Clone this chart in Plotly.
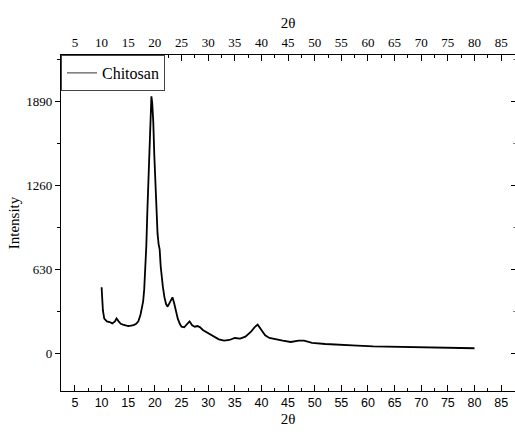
import plotly.graph_objects as go

two_theta = [10.0, 10.1, 10.25, 10.5, 11, 11.5, 12, 12.5, 12.8, 13.2, 13.6, 14, 14.5, 15, 15.5, 16,
             16.5, 16.9, 17.3, 17.6, 17.8, 18.0, 18.2, 18.4, 18.6, 18.8, 19.0, 19.2, 19.35, 19.5,
             19.7, 19.9, 20.1, 20.3, 20.5, 20.7, 20.9, 21.1, 21.3, 21.5, 21.8, 22.1, 22.4, 22.7,
             23.0, 23.3, 23.6, 23.9, 24.3, 24.7, 25.0, 25.5, 26.0, 26.5, 27.0, 27.5, 28.0, 28.5,
             29, 30, 31, 32, 33, 34, 35, 36, 37, 38, 38.7, 39.3, 40, 40.7, 41.5, 42.5, 44, 45.5,
             47, 48, 49.5, 52, 55, 58, 61, 64, 67, 70, 73, 76, 78, 80]
intensity = [496, 420, 320, 260, 240, 235, 225, 240, 262, 240, 222, 215, 210, 205, 208, 212,
             222, 240, 290, 340, 390, 480, 620, 810, 1080, 1330, 1620, 1860, 1930, 1880,
             1740, 1480, 1230, 1050, 900, 820, 780, 650, 560, 500, 420, 370, 350, 370,
             400, 420, 380, 320, 260, 220, 200, 195, 215, 240, 210, 200, 205, 195,
             175, 150, 125, 105, 95, 100, 115, 110, 125, 160, 195, 215, 175, 135, 115, 105, 95, 85,
             95, 95, 78, 70, 62, 58, 52, 50, 46, 44, 41, 38, 38, 38]

x_ticks = [5, 10, 15, 20, 25, 30, 35, 40, 45, 50, 55, 60, 65, 70, 75, 80, 85]
y_ticks = [0, 630, 1260, 1890]
series_name = "Chitosan"

XR = [2.38, 87.6]
YR = [-283, 2240]
SERIF = "Liberation Serif, Times New Roman, serif"
SANS = "Liberation Sans, Arial, sans-serif"

fig = go.Figure()
fig.add_trace(go.Scatter(x=two_theta, y=intensity, mode="lines",
                         line=dict(color="black", width=1.8), showlegend=False,
                         hoverinfo="skip"))
fig.add_trace(go.Scatter(x=[None], y=[None], mode="lines", name=series_name,
                         line=dict(color="#333333", width=1), xaxis="x2", yaxis="y2"))

fig.update_layout(
    width=515, height=435,
    margin=dict(l=61, r=0, t=55, b=44),
    paper_bgcolor="white", plot_bgcolor="white",
    xaxis=dict(range=XR, tickvals=x_ticks, ticks="inside", ticklen=6, tickwidth=1,
               tickcolor="black", showline=True, linecolor="black", linewidth=1.2,
               showgrid=False, zeroline=False, automargin=False, ticklabelstandoff=0,
               minor=dict(dtick=2.5, tick0=2.5, ticks="inside", ticklen=3, tickcolor="black"),
               tickfont=dict(family=SANS, size=12.5, color="black"),
               title=dict(text="2θ", font=dict(family=SERIF, size=15, color="black"), standoff=4)),
    xaxis2=dict(range=XR, overlaying="x", side="top", tickvals=x_ticks, ticks="inside",
                ticklen=6, tickwidth=1, tickcolor="black", showline=True, linecolor="black",
                linewidth=1.2, showgrid=False, zeroline=False, automargin=False,
                ticklabelstandoff=2,
                minor=dict(dtick=2.5, tick0=2.5, ticks="inside", ticklen=3, tickcolor="black"),
                tickfont=dict(family=SERIF, size=13, color="black"),
                title=dict(text="2θ", font=dict(family=SERIF, size=15, color="black"), standoff=2)),
    yaxis=dict(range=YR, tickvals=y_ticks, ticks="outside", ticklen=5, tickwidth=1,
               tickcolor="black", showline=True, linecolor="black", linewidth=1.2,
               showgrid=False, zeroline=False, ticklabelstandoff=0, automargin=False,
               minor=dict(dtick=315, tick0=315, ticks="outside", ticklen=3, tickcolor="black"),
               tickfont=dict(family=SERIF, size=13, color="black"),
               title=dict(text="Intensity", font=dict(family=SERIF, size=15, color="black"), standoff=3)),
    yaxis2=dict(range=YR, overlaying="y", side="right", tickvals=y_ticks, ticks="inside",
                ticklen=4, tickcolor="black", showticklabels=False, showline=False,
                showgrid=False, zeroline=False, automargin=False,
                minor=dict(dtick=315, tick0=315, ticks="inside", ticklen=2, tickcolor="#888888")),
    legend=dict(x=0, y=1, xanchor="left", yanchor="top", bgcolor="white",
                bordercolor="#444444", borderwidth=1,
                font=dict(family=SERIF, size=16, color="black"),
                itemwidth=30, tracegroupgap=0),
    showlegend=True,
)

fig.write_html("out.html", config={"displayModeBar": False},
               post_script="document.body.style.margin='0';")
